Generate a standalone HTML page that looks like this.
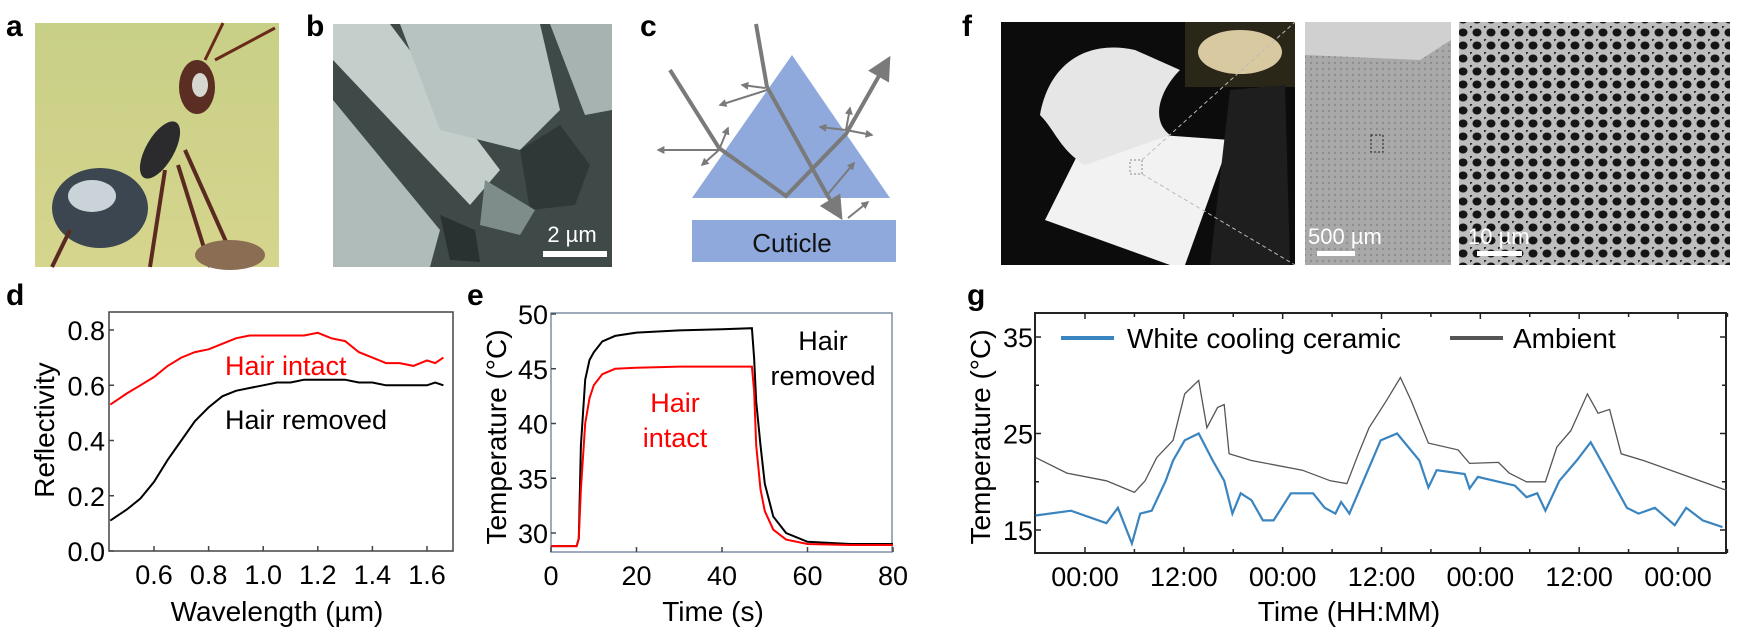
<!DOCTYPE html>
<html><head><meta charset="utf-8">
<style>
html,body{margin:0;padding:0;background:#fff;}
svg{display:block;font-family:"Liberation Sans",Arial,sans-serif;}
</style></head>
<body>
<svg id="fig" width="1737" height="633" viewBox="0 0 1737 633" xmlns="http://www.w3.org/2000/svg">
<defs>
<marker id="ah" viewBox="0 0 10 10" refX="8" refY="5" markerWidth="4" markerHeight="4" orient="auto"><path d="M0,0 L10,5 L0,10 z" fill="#7a7a7a"/></marker>
<marker id="ahs" viewBox="0 0 10 10" refX="8" refY="5" markerWidth="6" markerHeight="6" orient="auto"><path d="M0,0 L10,5 L0,10 z" fill="#7a7a7a"/></marker>
<pattern id="pores" width="14" height="13" patternUnits="userSpaceOnUse">
<rect width="14" height="13" fill="#bdbdbd"/>
<ellipse cx="7" cy="6.5" rx="4.5" ry="4" fill="#151515"/>
<circle cx="0" cy="0" r="2.2" fill="#2a2a2a"/>
</pattern>
<pattern id="foam" width="6" height="6" patternUnits="userSpaceOnUse">
<rect width="6" height="6" fill="#a9a9a9"/>
<circle cx="3" cy="3" r="1.2" fill="#8d8d8d"/>
</pattern>
<linearGradient id="antbg" x1="0" y1="0" x2="0" y2="1"><stop offset="0" stop-color="#c8cf86"/><stop offset="1" stop-color="#d6d58e"/></linearGradient>
</defs>

<!-- Panel a -->
<g>
<text x="6" y="36" font-size="30" font-weight="bold">a</text>
<rect x="35" y="23" width="244" height="244" fill="url(#antbg)"/>
<g fill="#2b2a2c">
<ellipse cx="100" cy="208" rx="48" ry="40" fill="#3b4650"/>
<ellipse cx="92" cy="196" rx="24" ry="16" fill="#c9d3d8"/>
<ellipse cx="160" cy="150" rx="14" ry="32" transform="rotate(30 160 150)"/>
<ellipse cx="197" cy="87" rx="18" ry="27" fill="#5a2e22"/>
<ellipse cx="200" cy="85" rx="8" ry="12" fill="#d8d6d0"/>
<line x1="205" y1="60" x2="223" y2="23" stroke="#6a2a1a" stroke-width="3"/>
<line x1="215" y1="60" x2="275" y2="28" stroke="#6a2a1a" stroke-width="3"/>
<line x1="165" y1="170" x2="150" y2="267" stroke="#5a2a20" stroke-width="4"/>
<line x1="178" y1="165" x2="210" y2="267" stroke="#5a2a20" stroke-width="4"/>
<line x1="185" y1="150" x2="232" y2="255" stroke="#5a2a20" stroke-width="4"/>
<line x1="70" y1="230" x2="52" y2="267" stroke="#5a2a20" stroke-width="4"/>
<ellipse cx="230" cy="255" rx="35" ry="15" fill="#8a6d52"/>
</g>
</g>

<!-- Panel b -->
<g>
<text x="306" y="36" font-size="30" font-weight="bold">b</text>
<rect x="333" y="24" width="279" height="243" fill="#3f4948"/>
<polygon points="333,24 390,24 500,170 470,205 333,60" fill="#c4cfcc"/>
<polygon points="400,24 540,24 560,110 520,150 440,130" fill="#b7c3c0"/>
<polygon points="550,24 612,24 612,110 585,115" fill="#a7b3b0"/>
<polygon points="333,100 440,230 430,267 333,267" fill="#b0bcb9"/>
<polygon points="520,150 560,125 590,165 575,205 530,210" fill="#2f3837"/>
<polygon points="485,180 535,210 520,235 480,225" fill="#7f8d8a"/>
<polygon points="440,215 475,230 480,262 450,260" fill="#2a3231"/>
<text x="572" y="242" font-size="22" fill="#fff" text-anchor="middle">2 µm</text>
<rect x="543" y="251" width="64" height="6" fill="#fff"/>
</g>

<!-- Panel c -->
<g>
<text x="640" y="36" font-size="30" font-weight="bold">c</text>
<polygon points="792,55 890,198 692,198" fill="#8fa9dc"/>
<rect x="692" y="220" width="204" height="42" fill="#8fa9dc"/>
<text x="792" y="252" font-size="26" text-anchor="middle" fill="#111">Cuticle</text>
<g stroke="#7a7a7a" stroke-width="4" fill="none">
<polyline points="756,24 767,87 826,193 840,216" marker-end="url(#ahs)"/>
<polyline points="670,70 719,148 786,196 846,134 888,60" marker-end="url(#ahs)"/>
</g>
<g stroke="#7a7a7a" stroke-width="2" fill="none" marker-end="url(#ah)">
<line x1="767" y1="90" x2="720" y2="105"/>
<line x1="765" y1="88" x2="742" y2="85"/>
<line x1="719" y1="150" x2="658" y2="150"/>
<line x1="719" y1="150" x2="702" y2="165"/>
<line x1="719" y1="150" x2="728" y2="128"/>
<line x1="846" y1="130" x2="820" y2="127"/>
<line x1="846" y1="130" x2="850" y2="108"/>
<line x1="846" y1="130" x2="872" y2="135"/>
<line x1="828" y1="194" x2="854" y2="163"/>
<line x1="848" y1="218" x2="868" y2="202"/>
</g>
</g>

<!-- Panel f -->
<g>
<text x="962" y="36" font-size="30" font-weight="bold">f</text>
<rect x="1001" y="22" width="294" height="243" fill="#0c0c0c"/>
<polygon points="1045,220 1090,130 1230,140 1185,265 1170,265" fill="#f2f2f2"/>
<path d="M1040,115 C1050,60 1090,40 1135,50 L1180,70 C1160,90 1150,120 1170,135 L1085,165 C1060,150 1055,130 1040,115 z" fill="#e6e6e6"/>
<rect x="1185" y="22" width="110" height="65" fill="#2a2618"/>
<ellipse cx="1240" cy="52" rx="42" ry="22" fill="#d8c9a0"/>
<polygon points="1230,90 1285,85 1290,265 1210,265" fill="#1e1e1e"/>
<rect x="1130" y="160" width="12" height="14" fill="none" stroke="#888" stroke-dasharray="2,2"/>
<line x1="1142" y1="160" x2="1295" y2="22" stroke="#bbb" stroke-dasharray="4,3"/>
<line x1="1142" y1="174" x2="1295" y2="265" stroke="#bbb" stroke-dasharray="4,3"/>
<rect x="1305" y="22" width="146" height="243" fill="url(#foam)"/>
<polygon points="1305,22 1451,22 1451,40 1420,60 1305,55" fill="#d0d0d0"/>
<rect x="1371" y="135" width="12" height="17" fill="none" stroke="#222" stroke-dasharray="2,2"/>
<text x="1308" y="244" font-size="22" fill="#fff">500 µm</text>
<rect x="1317" y="251" width="38" height="5" fill="#fff"/>
<rect x="1459" y="22" width="271" height="243" fill="url(#pores)"/>
<text x="1468" y="244" font-size="22" fill="#fff">10 µm</text>
<rect x="1477" y="251" width="45" height="5" fill="#fff"/>
</g>

<!-- Panel labels bottom -->
<text x="6" y="305" font-size="30" font-weight="bold">d</text>
<text x="467" y="305" font-size="30" font-weight="bold">e</text>
<text x="967" y="305" font-size="30" font-weight="bold">g</text>

<g id="chartD"></g>
<g id="chartE"></g>
<g id="chartG"></g>
</svg>

<script>
// ---- Panel d data ----
const dWavelength = [0.44,0.47,0.5,0.55,0.6,0.65,0.7,0.75,0.8,0.85,0.9,0.95,1.0,1.05,1.1,1.15,1.2,1.25,1.3,1.35,1.4,1.45,1.5,1.55,1.6,1.63,1.66];
const dHairIntact = [0.53,0.55,0.57,0.60,0.63,0.67,0.70,0.72,0.73,0.75,0.77,0.78,0.78,0.78,0.78,0.78,0.79,0.77,0.76,0.72,0.70,0.68,0.68,0.67,0.69,0.68,0.70];
const dHairRemoved = [0.11,0.13,0.15,0.19,0.25,0.33,0.40,0.47,0.52,0.56,0.58,0.59,0.60,0.61,0.61,0.62,0.62,0.62,0.62,0.61,0.61,0.60,0.60,0.60,0.60,0.61,0.60];
const dYTicks = [0.0,0.2,0.4,0.6,0.8];
const dXTicks = [0.6,0.8,1.0,1.2,1.4,1.6];
// ---- Panel e data ----
const eTime = [0,6,6.5,7,8,9,10,12,15,20,30,40,47,47.5,48,49,50,52,55,60,70,80];
const eHairRemoved = [28.8,28.8,29.5,38,44,45.8,46.5,47.5,48.0,48.3,48.5,48.6,48.7,46,42,38,34.5,31.5,30.0,29.2,29.0,29.0];
const eHairIntact = [28.8,28.8,29.5,34,40,42.3,43.5,44.5,45.0,45.1,45.2,45.2,45.2,43,38,34,32,30.3,29.4,29.0,28.9,28.9];
const eYTicks = [30,35,40,45,50];
const eXTicks = [0,20,40,60,80];
// ---- Panel g data ----
const gHoursAmb = [-6,-2.2,2.6,6.0,7.3,8.7,10.7,12.1,13.8,14.8,16.1,16.9,17.5,20.2,26.4,29.8,31.8,33.2,34.5,36.6,38.3,39.6,40.6,41.7,45.3,46.7,50.2,51.5,53.6,55.9,57.3,59,61,62.3,63.7,65.1,67.8,77.9];
const gAmbient = [22.5,20.9,20.1,18.9,20.1,22.5,24.3,29.1,30.5,25.6,27.7,28,22.9,22.2,21.2,20.1,19.8,22.9,25.6,28.4,30.8,28.4,26.3,24,23.3,21.9,22,20.9,20,20,23.6,25.3,29.1,27.1,27.5,22.9,22.2,19.1];
const gHoursCer = [-6,-1.7,2.6,4.0,5.7,6.7,8.1,9.8,10.7,12.1,13.8,15.5,16.9,17.9,18.9,20.2,21.6,22.9,25,27.7,29.1,30.4,31.1,32.1,33.8,35.9,37.9,40.6,41.7,42.7,46.1,46.7,47.7,52.2,53.6,54.9,55.9,57.6,59.7,61.4,63.1,65.8,67.2,69.2,71.6,73,75,77.4];
const gCeramic = [16.5,17,15.7,17.3,13.6,16.7,17,20.1,22.2,24.3,25,22.2,20.1,16.7,18.8,18.1,16,16,18.8,18.8,17.3,16.7,17.9,16.7,20.1,24.3,25,22.2,19.4,21.2,20.8,19.3,20.5,19.6,18.4,18.8,17,20.1,22.2,24.1,21.5,17.3,16.7,17.3,15.5,17.3,16,15.3];
const gYTicks = [15,25,35];
const gXTicks = [0,12,24,36,48,60,72];
const gXTickLabels = ["00:00","12:00","00:00","12:00","00:00","12:00","00:00"];

const NS = "http://www.w3.org/2000/svg";
function mk(parent, tag, attrs, text){
  const el = document.createElementNS(NS, tag);
  for (const k in attrs) el.setAttribute(k, attrs[k]);
  if (text !== undefined) el.textContent = text;
  parent.appendChild(el);
  return el;
}
function scale(d0,d1,r0,r1){ return v => r0 + (v-d0)/(d1-d0)*(r1-r0); }
function pathFrom(xs, ys, sx, sy){
  return xs.map((x,i)=>(i?"L":"M")+sx(x).toFixed(1)+","+sy(ys[i]).toFixed(1)).join(" ");
}

// ---------- Chart d ----------
(function(){
  const g = document.getElementById("chartD");
  
  
  const L=109,R=453,T=312,B=551;
  const sx = scale(0.6,1.6,154,427), sy = scale(0,0.8,551,330);
  const frame = mk(g,"rect",{x:L,y:T,width:R-L,height:B-T,fill:"none",stroke:"#444","stroke-width":1.5});
  
  
  dYTicks.forEach(v=>{
    mk(g,"line",{x1:L,x2:L+5,y1:sy(v),y2:sy(v),stroke:"#444","stroke-width":1.5});
    const t = mk(g,"text",{x:L-4,y:sy(v)+10,"font-size":27,"text-anchor":"end"},v.toFixed(1));
    
    
  });
  dXTicks.forEach(v=>{
    mk(g,"line",{x1:sx(v),x2:sx(v),y1:B,y2:B-5,stroke:"#444","stroke-width":1.5});
    const t = mk(g,"text",{x:sx(v),y:B+33,"font-size":27,"text-anchor":"middle"},v.toFixed(1));
    
    
  });
  const p1 = mk(g,"path",{d:pathFrom(dWavelength,dHairRemoved,sx,sy),fill:"none",stroke:"#000","stroke-width":2});
  
  
  const p2 = mk(g,"path",{d:pathFrom(dWavelength,dHairIntact,sx,sy),fill:"none",stroke:"#f00","stroke-width":2});
  
  
  const l1 = mk(g,"text",{x:225,y:375,"font-size":27,fill:"#f00"},"Hair intact");
  
  
  const l2 = mk(g,"text",{x:225,y:429,"font-size":27,fill:"#000"},"Hair removed");
  
  
  const yt = mk(g,"text",{x:0,y:0,"font-size":28,"text-anchor":"middle",transform:"translate(54,430) rotate(-90)"},"Reflectivity");
  
  
  const xt = mk(g,"text",{x:277,y:621,"font-size":28,"text-anchor":"middle"},"Wavelength (µm)");
  
  
})();

// ---------- Chart e ----------
(function(){
  const g = document.getElementById("chartE");
  
  
  const L=551,R=892,T=313,B=552;
  const sx = scale(0,80,551,893), sy = scale(30,50,533,314);
  const frame = mk(g,"rect",{x:L,y:T,width:R-L,height:B-T,fill:"none",stroke:"#7f8fa6","stroke-width":1.5});
  
  
  eYTicks.forEach(v=>{
    mk(g,"line",{x1:L,x2:L+5,y1:sy(v),y2:sy(v),stroke:"#444","stroke-width":1.5});
    const t = mk(g,"text",{x:L-3,y:sy(v)+10,"font-size":27,"text-anchor":"end"},String(v));
    
    
  });
  eXTicks.forEach(v=>{
    mk(g,"line",{x1:sx(v),x2:sx(v),y1:B,y2:B-5,stroke:"#444","stroke-width":1.5});
    const t = mk(g,"text",{x:sx(v),y:B+33,"font-size":27,"text-anchor":"middle"},String(v));
    
    
  });
  const p1 = mk(g,"path",{d:pathFrom(eTime,eHairRemoved,sx,sy),fill:"none",stroke:"#000","stroke-width":2});
  
  
  const p2 = mk(g,"path",{d:pathFrom(eTime,eHairIntact,sx,sy),fill:"none",stroke:"#f00","stroke-width":2});
  
  
  const a = mk(g,"text",{x:823,y:350,"font-size":27,"text-anchor":"middle"},"Hair");
  
  
  const b = mk(g,"text",{x:823,y:385,"font-size":27,"text-anchor":"middle"},"removed");
  
  
  const c = mk(g,"text",{x:675,y:412,"font-size":27,"text-anchor":"middle",fill:"#f00"},"Hair");
  
  
  const d = mk(g,"text",{x:675,y:447,"font-size":27,"text-anchor":"middle",fill:"#f00"},"intact");
  
  
  const yt = mk(g,"text",{x:0,y:0,"font-size":28,"text-anchor":"middle",transform:"translate(506,437) rotate(-90)"},"Temperature (°C)");
  
  
  const xt = mk(g,"text",{x:713,y:621,"font-size":28,"text-anchor":"middle"},"Time (s)");
  
  
})();

// ---------- Chart g ----------
(function(){
  const g = document.getElementById("chartG");
  
  
  const L=1035,R=1726,T=313,B=553;
  const sx = scale(0,72,1085,1678), sy = scale(15,35,530,337);
  const frame = mk(g,"rect",{x:L,y:T,width:R-L,height:B-T,fill:"none",stroke:"#222","stroke-width":2});
  
  
  gYTicks.forEach(v=>{
    mk(g,"line",{x1:L,x2:L+6,y1:sy(v),y2:sy(v),stroke:"#222","stroke-width":1.5});
    mk(g,"line",{x1:R,x2:R-6,y1:sy(v),y2:sy(v),stroke:"#222","stroke-width":1.5});
    const t = mk(g,"text",{x:L-2,y:sy(v)+10,"font-size":27,"text-anchor":"end"},String(v));
    
    
  });
  [20,30].forEach(v=>{
    mk(g,"line",{x1:L,x2:L+4,y1:sy(v),y2:sy(v),stroke:"#222","stroke-width":1.5});
    mk(g,"line",{x1:R,x2:R-4,y1:sy(v),y2:sy(v),stroke:"#222","stroke-width":1.5});
  });
  gXTicks.forEach((v,i)=>{
    mk(g,"line",{x1:sx(v),x2:sx(v),y1:B,y2:B-6,stroke:"#222","stroke-width":1.5});
    mk(g,"line",{x1:sx(v),x2:sx(v),y1:T,y2:T+6,stroke:"#222","stroke-width":1.5});
    mk(g,"line",{x1:sx(v+6),x2:sx(v+6),y1:B,y2:B-4,stroke:"#222","stroke-width":1.5});
    mk(g,"line",{x1:sx(v+6),x2:sx(v+6),y1:T,y2:T+4,stroke:"#222","stroke-width":1.5});
    const t = mk(g,"text",{x:sx(v),y:B+33,"font-size":27,"text-anchor":"middle"},gXTickLabels[i]);
    
    
  });
  const p1 = mk(g,"path",{d:pathFrom(gHoursAmb,gAmbient,sx,sy),fill:"none",stroke:"#555","stroke-width":1.3});
  
  
  const p2 = mk(g,"path",{d:pathFrom(gHoursCer,gCeramic,sx,sy),fill:"none",stroke:"#3a84c0","stroke-width":2.2});
  
  
  const lg1 = mk(g,"line",{x1:1061,x2:1114,y1:338,y2:338,stroke:"#3a84c0","stroke-width":4});
  
  
  const lt1 = mk(g,"text",{x:1127,y:348,"font-size":28},"White cooling ceramic");
  
  
  const lg2 = mk(g,"line",{x1:1450,x2:1503,y1:338,y2:338,stroke:"#555","stroke-width":4});
  
  
  const lt2 = mk(g,"text",{x:1513,y:348,"font-size":28},"Ambient");
  
  
  const yt = mk(g,"text",{x:0,y:0,"font-size":28,"text-anchor":"middle",transform:"translate(990,437) rotate(-90)"},"Temperature (°C)");
  
  
  const xt = mk(g,"text",{x:1349,y:621,"font-size":28,"text-anchor":"middle"},"Time (HH:MM)");
  
  
})();
</script>
</body></html>
